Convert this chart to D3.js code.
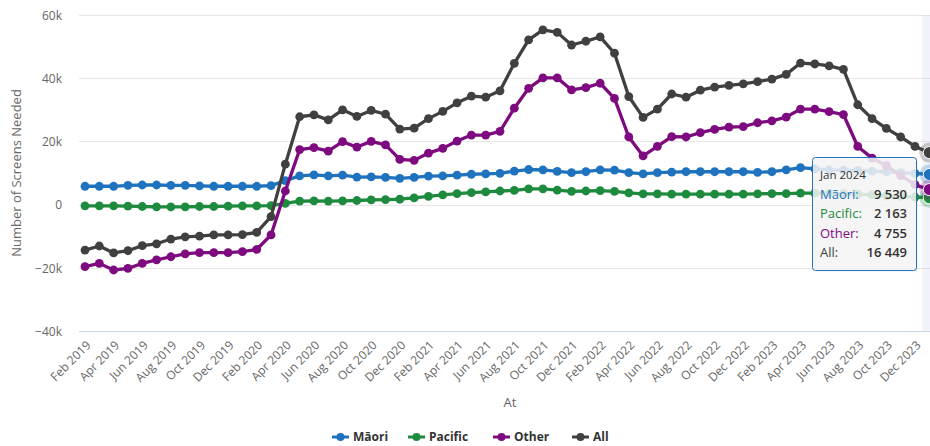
<!DOCTYPE html>
<html>
<head>
<meta charset="utf-8">
<script src="https://cdn.jsdelivr.net/npm/d3@7"></script>
<style>
  html, body { margin: 0; padding: 0; background: #fff; }
  svg { display: block; font-family: "Open Sans", "DejaVu Sans", sans-serif; }
</style>
</head>
<body>
<svg id="chart" width="930" height="446"></svg>
<script>
const months = [
  "Feb 2019","Mar 2019","Apr 2019","May 2019","Jun 2019","Jul 2019","Aug 2019","Sep 2019","Oct 2019","Nov 2019","Dec 2019",
  "Jan 2020","Feb 2020","Mar 2020","Apr 2020","May 2020","Jun 2020","Jul 2020","Aug 2020","Sep 2020","Oct 2020","Nov 2020","Dec 2020",
  "Jan 2021","Feb 2021","Mar 2021","Apr 2021","May 2021","Jun 2021","Jul 2021","Aug 2021","Sep 2021","Oct 2021","Nov 2021","Dec 2021",
  "Jan 2022","Feb 2022","Mar 2022","Apr 2022","May 2022","Jun 2022","Jul 2022","Aug 2022","Sep 2022","Oct 2022","Nov 2022","Dec 2022",
  "Jan 2023","Feb 2023","Mar 2023","Apr 2023","May 2023","Jun 2023","Jul 2023","Aug 2023","Sep 2023","Oct 2023","Nov 2023","Dec 2023",
  "Jan 2024"
];

const maori = [5800,5800,5800,6100,6200,6200,6100,6100,5900,5800,5800,5800,5800,6000,7600,9100,9400,9100,9300,8700,8800,8600,8300,8600,9000,9100,9300,9600,9700,9900,10600,11100,11000,10500,10100,10400,11000,10900,10100,9700,10100,10300,10400,10400,10400,10400,10400,10200,10400,11000,11700,11300,11000,10900,10800,10600,10400,10100,9900,9530];

const pacific = [-400,-400,-400,-500,-600,-700,-700,-700,-600,-600,-500,-400,-400,-300,400,1100,1200,1100,1200,1300,1500,1600,1700,2100,2600,3100,3500,3800,4000,4300,4500,5000,5000,4600,4200,4300,4400,4200,3700,3400,3400,3300,3300,3300,3300,3300,3300,3400,3500,3500,3600,3600,3600,3500,3300,3100,2800,2600,2400,2163];

const other = [-19600,-18600,-20700,-20200,-18600,-17500,-16500,-15600,-15200,-15200,-15200,-14900,-14200,-9600,4300,17400,18000,16900,19900,18200,20000,18900,14300,14000,16300,17800,20100,22000,22000,23200,30500,36800,40100,40100,36300,37000,38400,33600,21400,15400,18400,21500,21400,22800,23800,24500,24700,25900,26500,27700,30200,30200,29400,28500,18400,14700,12300,9200,6300,4755];

const all = [-14400,-13100,-15300,-14600,-13000,-12400,-10900,-10200,-10000,-9600,-9600,-9500,-8800,-3800,12800,27800,28400,26800,30000,27900,29800,28600,23900,24200,27200,29500,32200,34300,34000,36000,44700,52100,55300,54500,50500,51700,53100,47900,34200,27600,30200,35000,34000,36200,37200,37700,38200,38900,39700,41200,44800,44500,43900,42800,31600,27200,24100,21400,18400,16449];

const seriesNames = ["Māori", "Pacific", "Other", "All"];
const seriesColors = ["#1f72bd", "#1e8a3e", "#7d0a7f", "#404040"];
const yTicks = [-40000, -20000, 0, 20000, 40000, 60000];
const xTickLabels = months.filter((m, i) => i % 2 === 0);
const hoverIndex = 59;

(function () {
const seriesValues = [maori, pacific, other, all];
const series = seriesNames.map((name, k) => ({ name, color: seriesColors[k], values: seriesValues[k] }));

const svg = d3.select("#chart");
const pLeft = 79, pRight = 940, pTop = 15, pBottom = 331;

const x = d3.scalePoint().domain(months).range([85, 929.3]);
const y = d3.scaleLinear().domain([-40000, 60000]).range([pBottom, pTop]);

// gridlines
svg.append("g").selectAll("line").data(yTicks).join("line")
  .attr("x1", pLeft).attr("x2", pRight)
  .attr("y1", d => Math.round(y(d)) + 0.5).attr("y2", d => Math.round(y(d)) + 0.5)
  .attr("stroke", d => d === -40000 ? "#ccd6eb" : "#e6e6e6")
  .attr("stroke-width", 1);

// crosshair
svg.append("rect")
  .attr("x", x(months[hoverIndex]) - 7).attr("y", pTop)
  .attr("width", 14).attr("height", pBottom - pTop)
  .attr("fill", "rgba(204,214,235,0.3)");

// y axis
const yAxis = d3.axisLeft(y).tickValues(yTicks).tickSize(0).tickPadding(0)
  .tickFormat(d => d === 0 ? "0" : (d < 0 ? "−" : "") + Math.abs(d / 1000) + "k");
const gy = svg.append("g").attr("transform", `translate(62,0)`).call(yAxis);
gy.select(".domain").remove();
gy.selectAll("text").attr("font-size", 12).attr("fill", "#666")
  .attr("font-family", "Open Sans, sans-serif").attr("dy", "0.35em").attr("x", 0);

// x axis
const xAxis = d3.axisBottom(x).tickValues(xTickLabels).tickSize(0).tickPadding(0);
const gx = svg.append("g").attr("transform", `translate(0,${pBottom})`).call(xAxis);
gx.select(".domain").remove();
gx.selectAll("text")
  .attr("font-size", 12).attr("fill", "#666").attr("font-family", "Open Sans, sans-serif")
  .attr("text-anchor", "end").attr("y", 0).attr("dy", 0)
  .attr("transform", "translate(6,15) rotate(-45)");

// axis titles
svg.append("text").attr("transform", `translate(21,${(pTop + pBottom) / 2}) rotate(-90)`)
  .attr("text-anchor", "middle").attr("font-size", 13).attr("fill", "#666")
  .text("Number of Screens Needed");
svg.append("text").attr("x", 510).attr("y", 407).attr("text-anchor", "middle")
  .attr("font-size", 13).attr("fill", "#666").text("At");

// lines
const line = d3.line().x((d, i) => x(months[i])).y(d => y(d));
const gs = svg.append("g").selectAll("g").data(series).join("g");
gs.append("path").attr("d", d => line(d.values)).attr("fill", "none")
  .attr("stroke", d => d.color).attr("stroke-width", 3.3).attr("stroke-linejoin", "round");
gs.each(function(s) {
  d3.select(this).selectAll("circle").data(s.values).join("circle")
    .attr("cx", (d, i) => x(months[i])).attr("cy", d => y(d)).attr("r", 4.4)
    .attr("fill", s.color);
});
// hover halo + markers
gs.append("circle").attr("cx", x(months[hoverIndex])).attr("cy", d => y(d.values[hoverIndex]))
  .attr("r", 10).attr("fill", d => d.color).attr("fill-opacity", 0.25);
gs.append("circle").attr("cx", x(months[hoverIndex])).attr("cy", d => y(d.values[hoverIndex]))
  .attr("r", 6).attr("fill", d => d.color).attr("stroke", "#fff").attr("stroke-width", 1);

// legend
const legendX = [332, 408, 493, 572];
const lg = svg.append("g").selectAll("g").data(series).join("g")
  .attr("transform", (d, i) => `translate(${legendX[i]},437)`);
lg.append("line").attr("x1", 0).attr("x2", 17).attr("y1", 0).attr("y2", 0)
  .attr("stroke", d => d.color).attr("stroke-width", 3);
lg.append("circle").attr("cx", 8.5).attr("cy", 0).attr("r", 4).attr("fill", d => d.color);
lg.append("text").attr("x", 21).attr("y", 0).attr("dy", "0.35em")
  .attr("font-size", 12).attr("font-weight", "bold").attr("fill", "#333")
  .text(d => d.name);

// tooltip
const tt = svg.append("g").attr("transform", "translate(812,157)");
tt.append("rect").attr("x", 1.5).attr("y", 1.5).attr("width", 104).attr("height", 113).attr("rx", 3)
  .attr("fill", "rgba(0,0,0,0.08)");
tt.append("rect").attr("x", 0.5).attr("y", 0.5).attr("width", 104).attr("height", 113).attr("rx", 3)
  .attr("fill", "rgba(247,247,247,0.85)").attr("stroke", seriesColors[0]).attr("stroke-width", 1);
tt.append("text").attr("x", 8).attr("y", 22).attr("font-size", 11.5).attr("fill", "#333")
  .text(months[hoverIndex]);
const rows = tt.selectAll("g.row").data(series).join("g").attr("class", "row")
  .attr("transform", (d, i) => `translate(0,${42 + i * 19.3})`);
rows.append("text").attr("x", 8).attr("y", 0).attr("font-size", 13).attr("fill", d => d.color)
  .text(d => d.name + ":");
const fmt = v => d3.format(",")(v).replace(/,/g, " ");
rows.append("text").attr("x", 95).attr("y", 0).attr("text-anchor", "end").attr("font-size", 13)
  .attr("font-weight", 600).attr("fill", "#333").text(d => fmt(d.values[hoverIndex]));
})();
</script>
</body>
</html>
